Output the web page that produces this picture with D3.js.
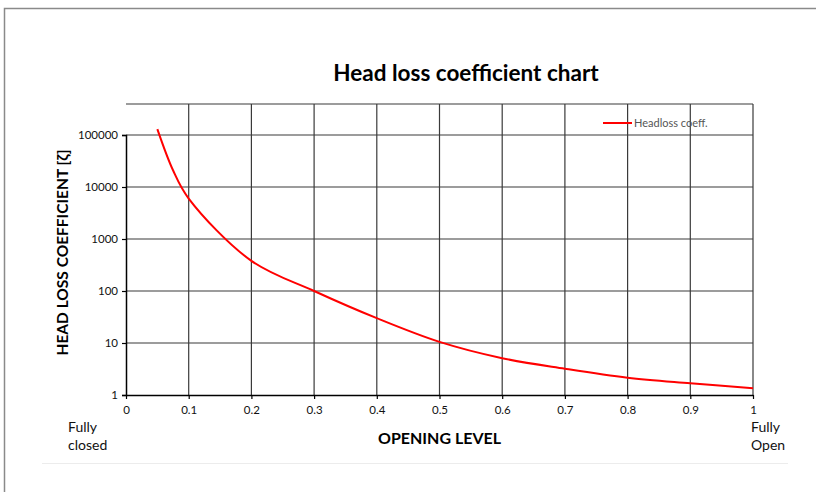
<!DOCTYPE html>
<html>
<head>
<meta charset="utf-8">
<script src="https://cdn.jsdelivr.net/npm/d3@7"></script>
<style>
  html, body { margin: 0; padding: 0; background: #fff; }
  svg { display: block; font-family: Lato, 'Open Sans', sans-serif; }
</style>
</head>
<body>
<svg id="chart" width="816" height="492"></svg>
<script>
// values
const opening = [0.05, 0.075, 0.1, 0.2, 0.3, 0.4, 0.5, 0.6, 0.7, 0.8, 0.9, 1.0];
const headloss = [130000, 21000, 6000, 380, 100, 30, 10.5, 5.1, 3.2, 2.15, 1.68, 1.35];
const xTicks = [0, 0.1, 0.2, 0.3, 0.4, 0.5, 0.6, 0.7, 0.8, 0.9, 1];
const yTicks = [1, 10, 100, 1000, 10000, 100000];

const svg = d3.select('#chart');

const plot = { left: 126, right: 753, top: 104, bottom: 395, firstDecadeTop: 135 };

const x = d3.scaleLinear().domain([0, 1]).range([plot.left, plot.right]);
const y = d3.scaleLog().domain([1, 100000]).range([plot.bottom, plot.firstDecadeTop]);

// chart area frame (runs off the right / bottom of the view)
svg.append('path')
  .attr('d', `M4.5,492 L4.5,8.5 L816,8.5`)
  .attr('fill', 'none')
  .attr('stroke', '#8a8a8a')
  .attr('stroke-width', 1.5);

// faint line near the bottom
svg.append('line')
  .attr('x1', 42).attr('x2', 788)
  .attr('y1', 463.5).attr('y2', 463.5)
  .attr('stroke', '#ececec');

svg.append('text')
  .attr('x', 466)
  .attr('y', 81)
  .attr('text-anchor', 'middle')
  .style('font-size', '22.5px')
  .style('font-weight', 'bold')
  .text('Head loss coefficient chart');

const grid = svg.append('g').attr('stroke', '#3a3a3a').attr('stroke-width', 1.2);

grid.selectAll('.vgrid')
  .data(xTicks.slice(1))
  .enter()
  .append('line')
  .attr('x1', d => x(d)).attr('x2', d => x(d))
  .attr('y1', plot.top).attr('y2', plot.bottom);

grid.selectAll('.hgrid')
  .data(yTicks.slice(1))
  .enter()
  .append('line')
  .attr('x1', plot.left).attr('x2', plot.right)
  .attr('y1', d => y(d)).attr('y2', d => y(d));

// top edge of plot area
grid.append('line')
  .attr('x1', plot.left).attr('x2', plot.right)
  .attr('y1', plot.top).attr('y2', plot.top);

// axes
const xAxis = svg.append('g')
  .attr('transform', `translate(0,${plot.bottom})`)
  .call(d3.axisBottom(x).tickValues(xTicks).tickSize(4).tickSizeOuter(0).tickFormat(d3.format('~g')));

const yAxis = svg.append('g')
  .attr('transform', `translate(${plot.left},0)`)
  .call(d3.axisLeft(y).tickValues(yTicks).tickSize(4).tickFormat(d => d));

[xAxis, yAxis].forEach(a => {
  a.select('.domain').attr('stroke', '#000').attr('stroke-width', 1.5);
  a.selectAll('.tick line').attr('stroke', '#000').attr('stroke-width', 1.2);
  a.selectAll('.tick text')
    .attr('fill', '#111')
    .style('font-family', 'Lato, sans-serif')
    .style('font-size', '11.5px');
});
xAxis.selectAll('.tick text').attr('dy', '1.05em');
yAxis.selectAll('.tick text').attr('x', -8);

// axis titles
svg.append('text')
  .attr('transform', `translate(68,${(plot.top + plot.bottom) / 2 + 3}) rotate(-90)`)
  .attr('text-anchor', 'middle')
  .style('font-size', '15.5px')
  .style('font-weight', 'bold')
  .text('HEAD LOSS COEFFICIENT [ζ]');

svg.append('text')
  .attr('x', (plot.left + plot.right) / 2)
  .attr('y', 444)
  .attr('text-anchor', 'middle')
  .style('font-size', '16px')
  .style('font-weight', 'bold')
  .text('OPENING LEVEL');

const endLabel = (xPos, lines) => {
  const t = svg.append('text')
    .attr('x', xPos)
    .attr('y', 432)
    .style('font-size', '14px')
    .attr('fill', '#111');
  lines.forEach((l, i) => {
    t.append('tspan').attr('x', xPos).attr('dy', i ? 18 : 0).text(l);
  });
};
endLabel(68, ['Fully', 'closed']);
endLabel(751, ['Fully', 'Open']);

// the curve
const line = d3.line()
  .x((d, i) => x(opening[i]))
  .y(d => y(d))
  .curve(d3.curveCatmullRom.alpha(0.5));

svg.append('path')
  .datum(headloss)
  .attr('d', line)
  .attr('fill', 'none')
  .attr('stroke', '#ff0000')
  .attr('stroke-width', 2);

// legend
const legend = svg.append('g').attr('transform', 'translate(603,123)');
legend.append('line')
  .attr('x1', 0).attr('x2', 29)
  .attr('stroke', '#ff0000')
  .attr('stroke-width', 2);
legend.append('text')
  .attr('x', 31)
  .attr('y', 3.5)
  .attr('fill', '#555')
  .style('font-size', '11px')
  .text('Headloss coeff.');
</script>
</body>
</html>
